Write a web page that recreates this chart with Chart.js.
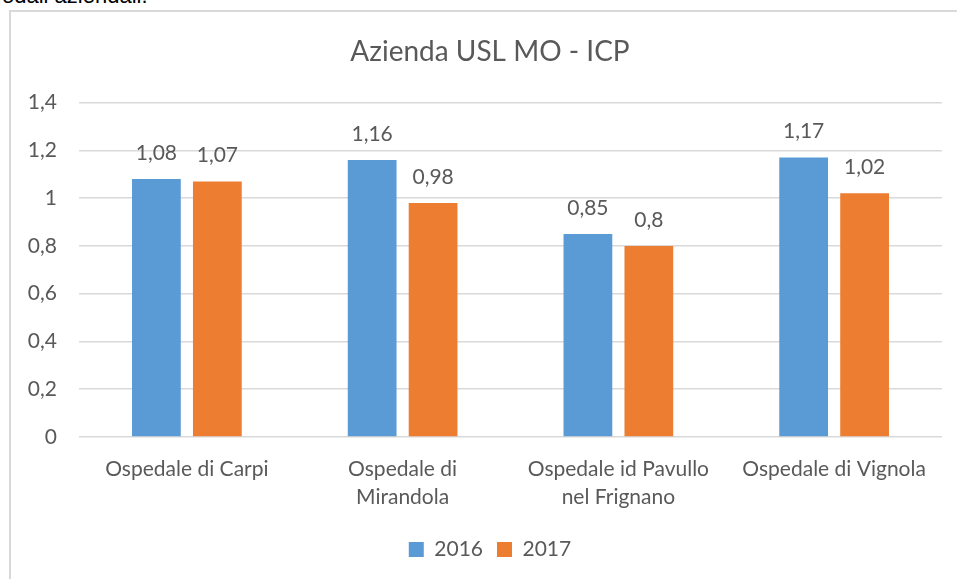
<!DOCTYPE html>
<html>
<head>
<meta charset="utf-8">
<script src="https://cdn.jsdelivr.net/npm/chart.js@4"></script>
<style>
    html, body { margin: 0; padding: 0; background: #fff; overflow: hidden; }
    .top-text {
        position: absolute; left: 2px; top: -17px;
        font-family: "Liberation Sans", Arial, sans-serif; font-size: 22px; color: #000;
    }
    .frame {
        position: absolute; left: 9px; top: 10px; width: 1000px; height: 600px;
        border: 2px solid #d9d9d9; box-sizing: border-box;
    }
    .wrap { position: absolute; left: 0; top: 0; width: 957px; height: 579px; }
</style>
</head>
<body>
<div class="top-text">odali aziendali.</div>
<div class="frame"></div>
<div class="wrap"><canvas id="icpChart"></canvas></div>
<script>
    const categories = [
        'Ospedale di Carpi',
        ['Ospedale di', 'Mirandola'],
        ['Ospedale id Pavullo', 'nel Frignano'],
        'Ospedale di Vignola'
    ];
    const values2016 = [1.08, 1.16, 0.85, 1.17];
    const values2017 = [1.07, 0.98, 0.8, 1.02];
    const yTicks = [0, 0.2, 0.4, 0.6, 0.8, 1, 1.2, 1.4];

    const textColor = '#595959';
    const fontFamily = 'Lato, "Open Sans", sans-serif';
    const fmt = v => String(v).replace('.', ',');

    // value above each bar, comma decimals like the original
    const valueLabels = {
        id: 'valueLabels',
        afterDatasetsDraw(chart) {
            const ctx = chart.ctx;
            ctx.save();
            ctx.font = '21px ' + fontFamily;
            ctx.fillStyle = textColor;
            ctx.textAlign = 'center';
            ctx.textBaseline = 'middle';
            chart.data.datasets.forEach((ds, i) => {
                chart.getDatasetMeta(i).data.forEach((bar, j) => {
                    ctx.fillText(fmt(ds.data[j]), bar.x, bar.y - 26);
                });
            });
            ctx.restore();
        }
    };

    // the original frame runs past the right edge, so title/legend sit a bit right of the page centre
    const shiftCenter = {
        id: 'shiftCenter',
        afterLayout(chart) {
            if (chart.titleBlock) chart.titleBlock.left = 38;
            if (chart.legend) chart.legend.left = 38;
        }
    };

    new Chart(document.getElementById('icpChart'), {
        type: 'bar',
        data: {
            labels: categories,
            datasets: [
                { label: '2016', data: values2016, backgroundColor: '#5B9BD5' },
                { label: '2017', data: values2017, backgroundColor: '#ED7D31' }
            ]
        },
        options: {
            responsive: true,
            maintainAspectRatio: false,
            animation: false,
            categoryPercentage: 0.565,
            barPercentage: 0.8,
            layout: { padding: { left: 10, right: 15, top: 0, bottom: 9 } },
            plugins: {
                tooltip: { enabled: false },
                title: {
                    display: true,
                    text: 'Azienda USL MO - ICP',
                    color: textColor,
                    font: { family: fontFamily, size: 28, weight: 'normal', lineHeight: 1.2 },
                    padding: { top: 35, bottom: 34 }
                },
                legend: {
                    position: 'bottom',
                    labels: {
                        color: textColor,
                        font: { family: fontFamily, size: 21 },
                        boxWidth: 15,
                        boxHeight: 15,
                        padding: 14
                    }
                }
            },
            scales: {
                x: {
                    grid: { display: false },
                    border: { display: false },
                    ticks: {
                        color: textColor,
                        font: { family: fontFamily, size: 21, lineHeight: 1.33 },
                        padding: 10,
                        maxRotation: 0,
                        autoSkip: false
                    },
                    afterFit(scale) { scale.height = 88; }
                },
                y: {
                    min: 0,
                    max: 1.4,
                    afterBuildTicks(scale) { scale.ticks = yTicks.map(v => ({ value: v })); },
                    grid: { color: '#d9d9d9', lineWidth: 1.5, drawTicks: false },
                    border: { display: false },
                    ticks: {
                        color: textColor,
                        font: { family: fontFamily, size: 21 },
                        padding: 22,
                        callback: v => fmt(v)
                    },
                    afterFit(scale) { scale.width = 69; }
                }
            }
        },
        plugins: [valueLabels, shiftCenter]
    });
</script>
</body>
</html>
